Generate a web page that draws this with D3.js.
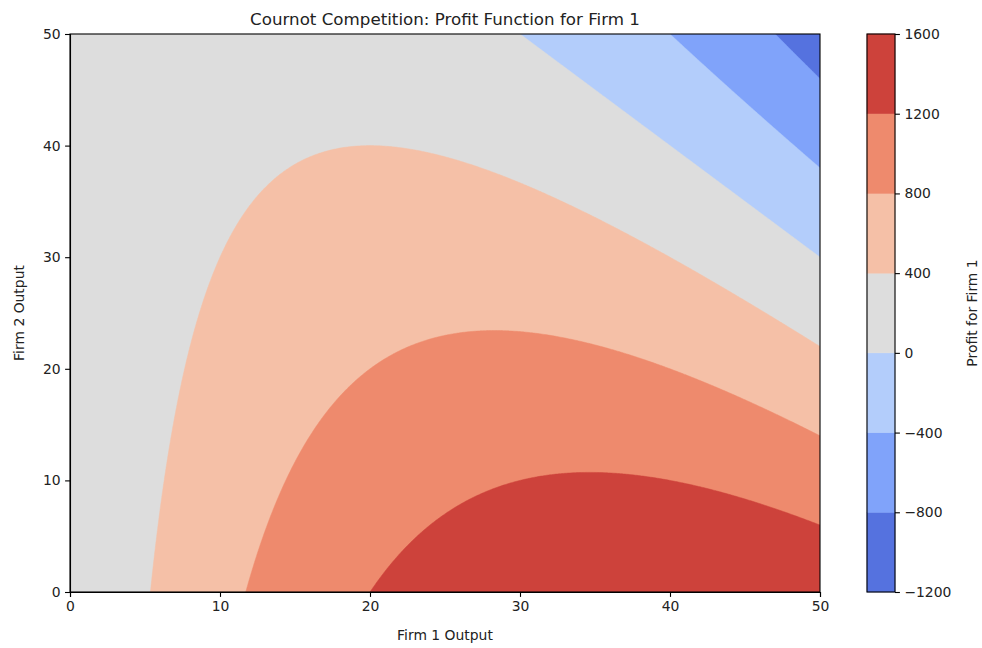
<!DOCTYPE html>
<html>
<head>
<meta charset="utf-8">
<script src="https://cdn.jsdelivr.net/npm/d3@7"></script>
<style>
	body { margin: 0; background: #fff; }
	text { font-family: "DejaVu Sans", sans-serif; fill: #222; }
	.axis path, .axis line { stroke: #000; stroke-width: 1.1; }
	.axis text { font-size: 13.9px; fill: #222; }
</style>
</head>
<body>
<script>
//Cournot profit contour chart for firm 1
(function(){

//model parameters
var demandIntercept = 100; //inverse demand P = a - b(q1 + q2)
var demandSlope = 1;
var marginalCost = 20;

//output range on both axes
var firm1Range = [0, 50];
var firm2Range = [0, 50];

//contour levels (band edges) and tick labels
var profitLevels = [-1200, -800, -400, 0, 400, 800, 1200, 1600];
var xTicks = [0, 10, 20, 30, 40, 50];
var yTicks = [0, 10, 20, 30, 40, 50];

//coolwarm colours for each band, sampled at band midpoints
var bandColors = ["#5572df", "#80a3fa", "#b3cdfb", "#dddddd", "#f5c0a7", "#ee8a6d", "#cd423b"];

//frame
var width = 982, height = 648;
var plot = {left: 70, right: 820, top: 34, bottom: 592};
var bar = {left: 867, right: 895};

var svg = d3.select("body")
	.append("svg")
	.attr("width", width)
	.attr("height", height);

var x = d3.scaleLinear().domain(firm1Range).range([plot.left, plot.right]);
var y = d3.scaleLinear().domain(firm2Range).range([plot.bottom, plot.top]);

//profit of firm 1 at outputs q1, q2
function profit(q1, q2){
	var price = demandIntercept - demandSlope * (q1 + q2);
	return q1 * (price - marginalCost);
};

//sample grid
var n = 501, m = 501;
var stepX = (firm1Range[1] - firm1Range[0]) / (n - 1),
	stepY = (firm2Range[1] - firm2Range[0]) / (m - 1);
var grid = new Array(n * m);
for (var j = 0; j < m; j++){
	for (var i = 0; i < n; i++){
		grid[j * n + i] = profit(firm1Range[0] + i * stepX, firm2Range[0] + j * stepY);
	};
};

var contours = d3.contours()
	.size([n, m])
	.thresholds(profitLevels.slice(0, -1))(grid);

//grid coordinates -> pixels through the scales
var gridToPixels = d3.geoTransform({
	point: function(gx, gy){
		this.stream.point(x(firm1Range[0] + (gx - 0.5) * stepX), y(firm2Range[0] + (gy - 0.5) * stepY));
	}
});
var path = d3.geoPath(gridToPixels);

svg.append("clipPath")
	.attr("id", "plotClip")
	.append("rect")
	.attr("x", plot.left)
	.attr("y", plot.top)
	.attr("width", plot.right - plot.left)
	.attr("height", plot.bottom - plot.top);

svg.append("g")
	.attr("clip-path", "url(#plotClip)")
	.selectAll("path")
	.data(contours)
	.enter()
	.append("path")
	.attr("d", path)
	.attr("fill", function(d, i){ return bandColors[i]; })
	.attr("stroke", function(d, i){ return bandColors[i]; })
	.attr("stroke-width", 0.5);

//axes
svg.append("g")
	.attr("class", "axis")
	.attr("transform", "translate(0," + plot.bottom + ")")
	.call(d3.axisBottom(x).tickValues(xTicks).tickSize(4.9).tickPadding(4.5).tickFormat(d3.format("d")));

svg.append("g")
	.attr("class", "axis")
	.attr("transform", "translate(" + plot.left + ",0)")
	.call(d3.axisLeft(y).tickValues(yTicks).tickSize(4.9).tickPadding(4.5).tickFormat(d3.format("d")));

//frame
svg.append("rect")
	.attr("x", plot.left)
	.attr("y", plot.top)
	.attr("width", plot.right - plot.left)
	.attr("height", plot.bottom - plot.top)
	.attr("fill", "none")
	.attr("stroke", "#000")
	.attr("stroke-width", 1.1);

//titles
svg.append("text")
	.attr("x", (plot.left + plot.right) / 2)
	.attr("y", 25)
	.attr("text-anchor", "middle")
	.style("font-size", "16.7px")
	.text("Cournot Competition: Profit Function for Firm 1");

svg.append("text")
	.attr("x", (plot.left + plot.right) / 2)
	.attr("y", 640)
	.attr("text-anchor", "middle")
	.style("font-size", "13.9px")
	.text("Firm 1 Output");

svg.append("text")
	.attr("transform", "translate(24," + (plot.top + plot.bottom) / 2 + ") rotate(-90)")
	.attr("text-anchor", "middle")
	.style("font-size", "13.9px")
	.text("Firm 2 Output");

//colorbar
var c = d3.scaleLinear()
	.domain([profitLevels[0], profitLevels[profitLevels.length - 1]])
	.range([plot.bottom, plot.top]);

svg.append("g")
	.selectAll("rect")
	.data(d3.pairs(profitLevels))
	.enter()
	.append("rect")
	.attr("x", bar.left)
	.attr("width", bar.right - bar.left)
	.attr("y", function(d){ return c(d[1]); })
	.attr("height", function(d){ return c(d[0]) - c(d[1]); })
	.attr("fill", function(d, i){ return bandColors[i]; })
	.attr("stroke", function(d, i){ return bandColors[i]; })
	.attr("stroke-width", 0.5);

svg.append("rect")
	.attr("x", bar.left)
	.attr("y", plot.top)
	.attr("width", bar.right - bar.left)
	.attr("height", plot.bottom - plot.top)
	.attr("fill", "none")
	.attr("stroke", "#000")
	.attr("stroke-width", 1.1);

var barAxis = svg.append("g")
	.attr("class", "axis")
	.attr("transform", "translate(" + bar.right + ",0)")
	.call(d3.axisRight(c).tickValues(profitLevels).tickSize(4.9).tickPadding(4.5).tickFormat(d3.format("d")));
barAxis.select(".domain").remove();

svg.append("text")
	.attr("transform", "translate(977," + (plot.top + plot.bottom) / 2 + ") rotate(-90)")
	.attr("text-anchor", "middle")
	.style("font-size", "13.9px")
	.text("Profit for Firm 1");

})();
</script>
</body>
</html>
